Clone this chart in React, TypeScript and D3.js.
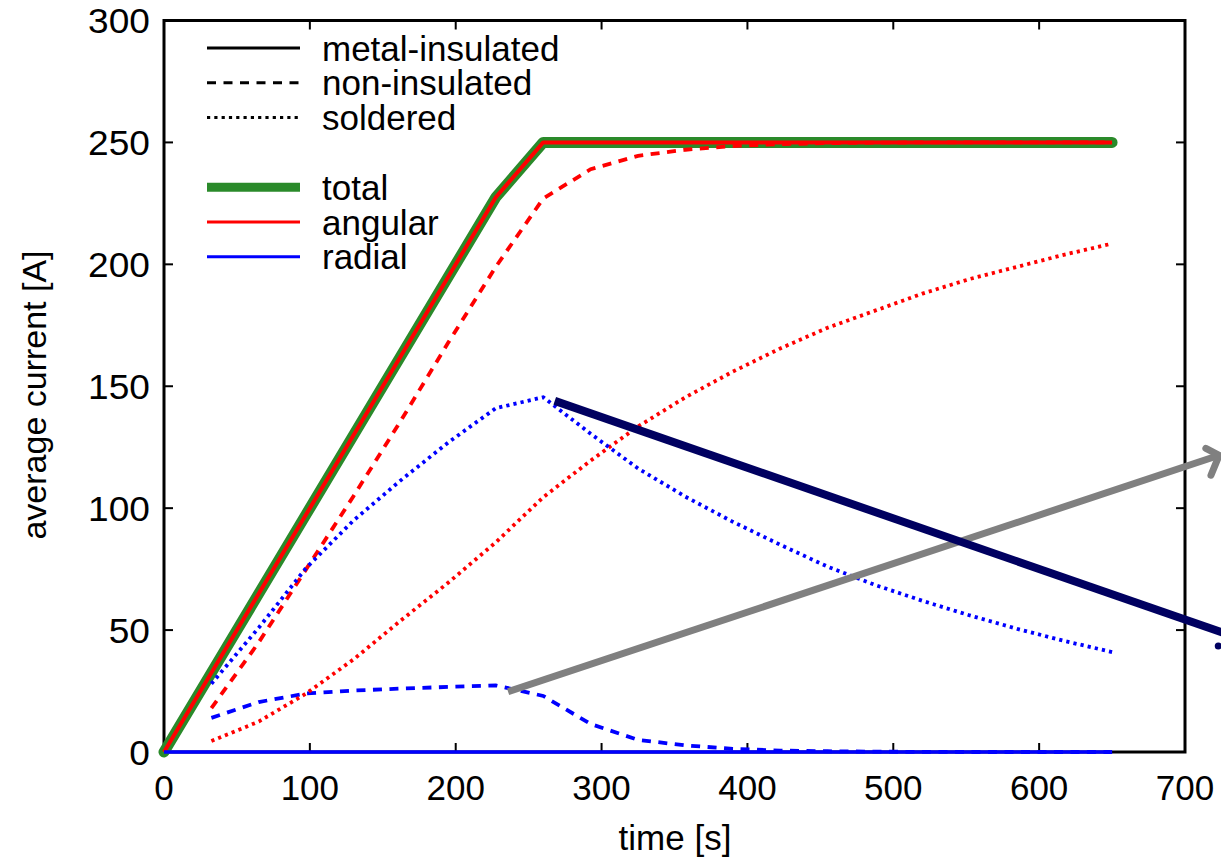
import React from "react";
import * as d3 from "d3";

// ---- data ----
const times = [0, 32.5, 65, 97.5, 130, 162.5, 195, 227.5, 260, 292.5, 325, 357.5, 390, 422.5, 455, 487.5, 520, 552.5, 585, 617.5, 650];

const totalMetal = [0, 32.5, 65, 97.5, 130, 162.5, 195, 227.5, 250, 250, 250, 250, 250, 250, 250, 250, 250, 250, 250, 250, 250];
const angularMetal = [0, 32.5, 65, 97.5, 130, 162.5, 195, 227.5, 250, 250, 250, 250, 250, 250, 250, 250, 250, 250, 250, 250, 250];
const radialMetal = [0, 0, 0, 0, 0, 0, 0, 0, 0, 0, 0, 0, 0, 0, 0, 0, 0, 0, 0, 0, 0];

const angularNonIns = [null, 18, 45, 75, 105, 136, 168, 199, 227, 239, 244.5, 247, 248.5, 249.3, 249.7, 249.9, 250, 250, 250, 250, 250];
const radialNonIns = [null, 14, 20.5, 24, 25.2, 26, 26.7, 27.3, 23, 11.5, 5, 2.7, 1.3, 0.6, 0.3, 0.15, 0.05, 0, 0, 0, 0];

const angularSold = [null, 4.5, 12.5, 24, 38, 54, 69.5, 86, 104.5, 119.5, 133.5, 145.5, 156, 165.5, 174, 181, 188, 194, 199, 204, 208.5];
const radialSold = [null, 28, 51, 75.5, 95, 111.5, 127, 141, 145.5, 130.5, 116.3, 104.7, 94.4, 85, 76, 68.5, 62, 56, 50.5, 45.5, 41];

const xTicks = [0, 100, 200, 300, 400, 500, 600, 700];
const yTicks = [0, 50, 100, 150, 200, 250, 300];

const styleLegend = ["metal-insulated", "non-insulated", "soldered"];
const componentLegend = ["total", "angular", "radial"];

// annotation arrows (in data units)
const grayArrow = [[235.9, 24.7], [723.4, 121.7]];
const grayHead = [[714.3, 124.5], [723.4, 121.7], [717.8, 113.5]];
const navyArrow = [[267.9, 144], [734.3, 47.2]];
const navyDot = [722.8, 43.5];

// ---- layout ----
const W = 1221, H = 859;
const FONT = "'Liberation Sans', Arial, Helvetica, sans-serif";
const FS = 35;
const GREEN = "#2a8a2a";
const RED = "#ff0000";
const BLUE = "#0000ff";
const DASH = "9,7.5";
const DOT = "3.2,4.1";

export default function App() {
  const x = d3.scaleLinear().domain([0, 700]).range([164, 1185]);
  const y = d3.scaleLinear().domain([0, 300]).range([752, 20.5]);

  const mk = (vals: (number | null)[]) =>
    d3.line<number>()
      .defined((_, i) => vals[i] !== null)
      .x((t) => x(t))
      .y((_, i) => y(vals[i] as number))(times) as string;

  const seg = (pts: number[][]) =>
    d3.line<number[]>().x((p) => x(p[0])).y((p) => y(p[1]))(pts) as string;

  const legendRowY = (i: number) => 48 + i * 34.8;

  return (
    <svg width={W} height={H} style={{ position: "absolute", left: 0, top: 0, background: "#fff" }} fontFamily={FONT}>
      <rect x={0} y={0} width={W} height={H} fill="#fff" />
      {/* frame */}
      <rect x={x(0)} y={y(300)} width={x(700) - x(0)} height={y(0) - y(300)} fill="none" stroke="#000" strokeWidth={3} />
      {/* ticks */}
      {xTicks.map((t) => (
        <g key={"xt" + t}>
          <line x1={x(t)} x2={x(t)} y1={y(0)} y2={y(0) - 9} stroke="#000" strokeWidth={2} />
          <line x1={x(t)} x2={x(t)} y1={y(300)} y2={y(300) + 9} stroke="#000" strokeWidth={2} />
          <text x={x(t)} y={800} textAnchor="middle" fontSize={FS} fill="#000">{t}</text>
        </g>
      ))}
      {yTicks.map((v) => (
        <g key={"yt" + v}>
          <line x1={x(0)} x2={x(0) + 9} y1={y(v)} y2={y(v)} stroke="#000" strokeWidth={2} />
          <line x1={x(700)} x2={x(700) - 9} y1={y(v)} y2={y(v)} stroke="#000" strokeWidth={2} />
          <text transform={`translate(150,${y(v)}) scale(1.06,1)`} dy="0.36em" textAnchor="end" fontSize={FS} fill="#000">{v}</text>
        </g>
      ))}
      {/* axis labels */}
      <text x={675} y={850} textAnchor="middle" fontSize={FS} fill="#000">time [s]</text>
      <text transform={`translate(46,395) rotate(-90)`} textAnchor="middle" fontSize={FS - 1} fill="#000">average current [A]</text>

      {/* legend */}
      {styleLegend.map((s, i) => (
        <g key={s}>
          <line x1={207} x2={300} y1={legendRowY(i)} y2={legendRowY(i)} stroke="#000" strokeWidth={3}
            strokeDasharray={i === 0 ? undefined : i === 1 ? DASH : DOT} />
          <text x={322} y={legendRowY(i)} dy="0.36em" fontSize={FS} fill="#000">{s}</text>
        </g>
      ))}
      {componentLegend.map((s, i) => (
        <g key={s}>
          <line x1={207} x2={300} y1={legendRowY(i + 4)} y2={legendRowY(i + 4)}
            stroke={i === 0 ? GREEN : i === 1 ? RED : BLUE} strokeWidth={i === 0 ? 9 : 3} />
          <text x={322} y={legendRowY(i + 4)} dy="0.36em" fontSize={FS} fill="#000">{s}</text>
        </g>
      ))}

      {/* data lines */}
      <path d={mk(totalMetal)} fill="none" stroke={GREEN} strokeWidth={11} strokeLinecap="round" strokeLinejoin="round" />
      <path d={mk(angularMetal)} fill="none" stroke={RED} strokeWidth={4} strokeLinejoin="round" />
      <path d={mk(radialMetal)} fill="none" stroke={BLUE} strokeWidth={3.5} />
      <path d={mk(angularNonIns)} fill="none" stroke={RED} strokeWidth={3.8} strokeDasharray={DASH} />
      <path d={mk(radialNonIns)} fill="none" stroke={BLUE} strokeWidth={3.8} strokeDasharray={DASH} />
      <path d={mk(angularSold)} fill="none" stroke={RED} strokeWidth={3.8} strokeDasharray={DOT} />
      <path d={mk(radialSold)} fill="none" stroke={BLUE} strokeWidth={3.8} strokeDasharray={DOT} />

      {/* annotation arrows */}
      <path d={seg(grayArrow)} fill="none" stroke="#808080" strokeWidth={7} />
      <path d={seg(grayHead)} fill="none" stroke="#808080" strokeWidth={7} strokeLinecap="round" strokeLinejoin="round" />
      <path d={seg(navyArrow)} fill="none" stroke="#000060" strokeWidth={8} />
      <circle cx={x(navyDot[0])} cy={y(navyDot[1])} r={3.5} fill="#000060" />
    </svg>
  );
}
